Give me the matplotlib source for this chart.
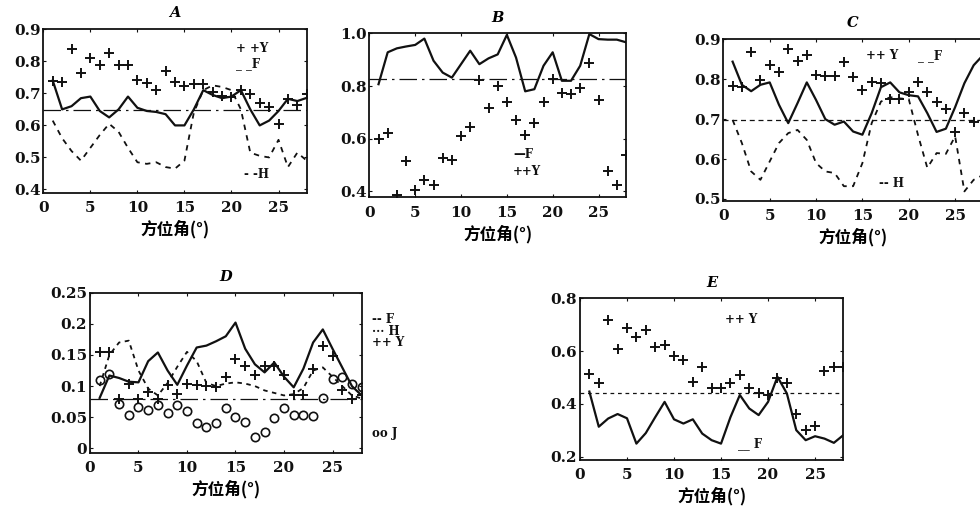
import matplotlib
matplotlib.use("Agg")
import matplotlib.pyplot as plt
import numpy as np

# ---------------- data ----------------
x28 = list(range(1, 29))
x27 = list(range(1, 28))

A_Y = [0.74, 0.735, 0.838, 0.762, 0.81, 0.79, 0.826, 0.787, 0.79, 0.743, 0.733, 0.712, 0.769, 0.735,
       0.723, 0.728, 0.728, 0.705, 0.692, 0.69, 0.712, 0.697, 0.67, 0.656, 0.604, 0.683, 0.663, 0.697]
A_F = [0.74, 0.65, 0.66, 0.685, 0.69, 0.645, 0.625, 0.65, 0.69, 0.655, 0.645, 0.642, 0.635, 0.6,
       0.6, 0.65, 0.71, 0.695, 0.685, 0.69, 0.71, 0.65, 0.6, 0.615, 0.645, 0.683, 0.676, 0.686]
A_H = [0.615, 0.56, 0.52, 0.49, 0.53, 0.57, 0.605, 0.58, 0.53, 0.485, 0.48, 0.485, 0.47, 0.465,
       0.49, 0.64, 0.71, 0.725, 0.72, 0.71, 0.65, 0.515, 0.505, 0.5, 0.555, 0.47, 0.515, 0.49]
A_mean = 0.648

B_Y = [0.6, 0.622, 0.385, 0.515, 0.404, 0.445, 0.425, 0.527, 0.518, 0.612, 0.645, 0.822, 0.718, 0.8,
       0.74, 0.673, 0.616, 0.658, 0.74, 0.826, 0.775, 0.771, 0.794, 0.889, 0.747, 0.476, 0.425, 0.54]
B_F = [0.807, 0.928, 0.943, 0.95, 0.956, 0.98, 0.896, 0.851, 0.832, 0.883, 0.934, 0.883, 0.905, 0.92,
       0.994, 0.908, 0.78, 0.788, 0.877, 0.928, 0.82, 0.82, 0.877, 0.997, 0.978, 0.976, 0.976, 0.966]
B_mean = 0.826

C_Y = [0.782, 0.78, 0.869, 0.797, 0.836, 0.819, 0.875, 0.846, 0.861, 0.811, 0.807, 0.808, 0.842, 0.806,
       0.773, 0.792, 0.79, 0.75, 0.75, 0.767, 0.794, 0.769, 0.744, 0.725, 0.667, 0.715, 0.694]
C_F = [0.844, 0.786, 0.77, 0.786, 0.792, 0.736, 0.69, 0.74, 0.792, 0.748, 0.70, 0.686, 0.694, 0.669,
       0.661, 0.715, 0.78, 0.792, 0.767, 0.76, 0.757, 0.715, 0.668, 0.676, 0.73, 0.79, 0.835, 0.86]
C_H = [0.698, 0.64, 0.569, 0.548, 0.594, 0.64, 0.665, 0.673, 0.648, 0.59, 0.569, 0.565, 0.532, 0.532,
       0.59, 0.69, 0.744, 0.755, 0.752, 0.75, 0.66, 0.578, 0.615, 0.613, 0.657, 0.519, 0.548, 0.56]
C_mean = 0.697

D_F = [0.081, 0.117, 0.113, 0.107, 0.106, 0.14, 0.154, 0.125, 0.102, 0.133, 0.162, 0.165, 0.172, 0.18,
       0.202, 0.16, 0.135, 0.122, 0.138, 0.115, 0.098, 0.128, 0.17, 0.191, 0.16, 0.13, 0.1, 0.085]
D_H = [0.1, 0.15, 0.17, 0.173, 0.125, 0.096, 0.085, 0.105, 0.131, 0.155, 0.14, 0.105, 0.1, 0.104,
       0.106, 0.104, 0.1, 0.093, 0.089, 0.085, 0.087, 0.097, 0.125, 0.13, 0.115, 0.1, 0.085, 0.08]
D_Y = [0.154, 0.154, 0.08, 0.104, 0.08, 0.09, 0.08, 0.101, 0.088, 0.104, 0.101, 0.1, 0.098, 0.114,
       0.144, 0.133, 0.117, 0.133, 0.133, 0.117, 0.085, 0.085, 0.128, 0.165, 0.149, 0.093, 0.08, 0.085]
D_J = [0.109, 0.12, 0.072, 0.054, 0.067, 0.062, 0.07, 0.057, 0.069, 0.06, 0.04, 0.035, 0.041, 0.064,
       0.051, 0.043, 0.019, 0.027, 0.048, 0.064, 0.053, 0.053, 0.052, 0.081, 0.111, 0.114, 0.104, 0.099]
D_mean = 0.079

E_Y = [0.513, 0.48, 0.718, 0.607, 0.686, 0.655, 0.68, 0.614, 0.623, 0.58, 0.566, 0.484, 0.541, 0.459,
       0.459, 0.48, 0.509, 0.459, 0.443, 0.434, 0.497, 0.478, 0.364, 0.301, 0.316, 0.526, 0.541, 0.541]
E_F = [0.447, 0.314, 0.345, 0.362, 0.346, 0.25, 0.29, 0.35, 0.408, 0.342, 0.326, 0.342, 0.288, 0.263,
       0.25, 0.35, 0.434, 0.383, 0.358, 0.408, 0.503, 0.44, 0.301, 0.263, 0.278, 0.269, 0.253, 0.282]
E_mean = 0.44

xticks = [0, 5, 10, 15, 20, 25]
xlabel = "方位角(°)"

# ---------------- style ----------------
SERIF = "DejaVu Serif"
CJK = ["Noto Sans CJK SC", "DejaVu Sans"]
INK = "#111111"
plt.rcParams["font.family"] = SERIF

fig = plt.figure(figsize=(9.8, 5.11), dpi=100)
fig.patch.set_facecolor("white")


def setup(ax, title, ylim, yticks, ylabels):
    ax.set_xlim(0, 28)
    ax.set_ylim(*ylim)
    ax.set_xticks(xticks)
    ax.set_xticklabels([str(t) for t in xticks], fontsize=11, fontweight="bold", family=SERIF)
    ax.set_yticks(yticks)
    ax.set_yticklabels(ylabels, fontsize=11, fontweight="bold", family=SERIF)
    ax.tick_params(direction="in", length=2, width=0.8, top=True, right=True, colors=INK)
    ax.tick_params(axis="x", pad=6)
    ax.tick_params(axis="y", pad=2)
    for s in ax.spines.values():
        s.set_linewidth(1.3)
        s.set_color(INK)
    ax.set_title(title, fontsize=10.5, fontweight="bold", fontstyle="italic", family=SERIF, pad=8.5)
    ax.set_xlabel(xlabel, fontsize=12, fontweight="bold", family=CJK, labelpad=3.5)


def plus(ax, x, y):
    ax.plot(x, y, linestyle="none", marker="+", markersize=7, mew=1.4, color=INK)


def solid(ax, x, y):
    ax.plot(x, y, "-", lw=1.6, color=INK)


def dashed(ax, x, y):
    ax.plot(x, y, linestyle=(0, (3, 3)), lw=1.3, color=INK)


def meanline(ax, v, ls):
    ax.axhline(v, linestyle=ls, lw=0.9, color=INK)


def note(ax, x, y, s, **kw):
    ax.text(x, y, s, transform=ax.transAxes, fontsize=8.5, fontweight="bold",
            family=SERIF, color=INK, va="center", ha="left", **kw)


# ---------------- A ----------------
axA = fig.add_axes([0.0442, 0.6229, 0.2688, 0.3198])
setup(axA, "A", (0.39, 0.9), [0.4, 0.5, 0.6, 0.7, 0.8, 0.9], ["0.4", "0.5", "0.6", "0.7", "0.8", "0.9"])
meanline(axA, A_mean, (0, (14, 4, 2, 4)))
dashed(axA, x28, A_H)
solid(axA, x28, A_F)
plus(axA, x28, A_Y)
note(axA, 0.73, 0.88, "+ +Y")
note(axA, 0.73, 0.79, "_ _F")
note(axA, 0.76, 0.11, "- -H")

# ---------------- B ----------------
axB = fig.add_axes([0.3769, 0.6139, 0.2619, 0.3209])
setup(axB, "B", (0.378, 1.0), [0.4, 0.6, 0.8, 1.0], ["0.4", "0.6", "0.8", "1.0"])
meanline(axB, B_mean, (0, (14, 4, 2, 4)))
solid(axB, x28, B_F)
plus(axB, x28, B_Y)
note(axB, 0.56, 0.26, "—F")
note(axB, 0.56, 0.16, "++Y")

# ---------------- C ----------------
axC = fig.add_axes([0.7381, 0.6067, 0.2649, 0.3164])
setup(axC, "C", (0.495, 0.9), [0.5, 0.6, 0.7, 0.8, 0.9], ["0.5", "0.6", "0.7", "0.8", "0.9"])
meanline(axC, C_mean, (0, (4, 3)))
dashed(axC, x28, C_H)
solid(axC, x28, C_F)
plus(axC, x27, C_Y)
note(axC, 0.55, 0.9, "++ Y")
note(axC, 0.75, 0.9, "_ _F")
note(axC, 0.6, 0.11, "-- H")

# ---------------- D ----------------
axD = fig.add_axes([0.0918, 0.1141, 0.2772, 0.3131])
setup(axD, "D", (-0.007, 0.25), [0, 0.05, 0.1, 0.15, 0.2, 0.25],
      ["0", "0.05", "0.1", "0.15", "0.2", "0.25"])
meanline(axD, D_mean, (0, (14, 4, 2, 4)))
axD.plot(x28, D_H, linestyle=(0, (2.5, 2.5)), lw=1.3, color=INK)
solid(axD, x28, D_F)
plus(axD, x28, D_Y)
axD.plot(x28, D_J, linestyle="none", marker="o", markersize=6, mfc="none", mew=1.2, color=INK)
note(axD, 1.04, 0.83, "-- F", clip_on=False)
note(axD, 1.04, 0.76, "··· H", clip_on=False)
note(axD, 1.04, 0.69, "++ Y", clip_on=False)
note(axD, 1.04, 0.12, "oo J", clip_on=False)

# ---------------- E ----------------
axE = fig.add_axes([0.5918, 0.0998, 0.2687, 0.3164])
setup(axE, "E", (0.188, 0.8), [0.2, 0.4, 0.6, 0.8], ["0.2", "0.4", "0.6", "0.8"])
meanline(axE, E_mean, (0, (3, 3)))
solid(axE, x28, E_F)
plus(axE, x28, E_Y)
note(axE, 0.55, 0.87, "++ Y")
note(axE, 0.6, 0.1, "__ F")

fig.savefig("out.png", dpi=100, facecolor="white")
